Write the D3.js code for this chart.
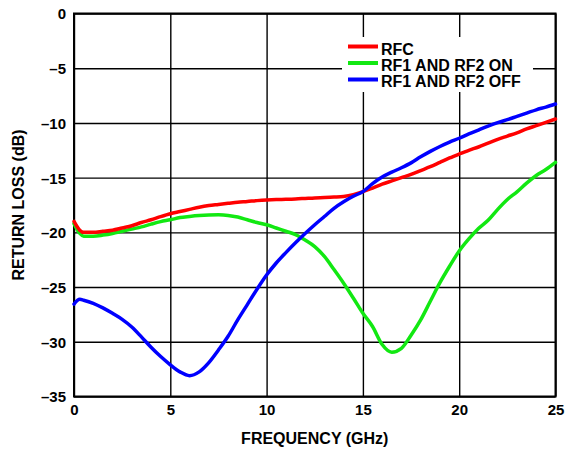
<!DOCTYPE html>
<html>
<head>
<meta charset="utf-8">
<script src="https://cdn.jsdelivr.net/npm/d3@7"></script>
<style>
  html, body { margin: 0; padding: 0; background: #fff; }
  svg text { font-family: "Liberation Sans", Arial, Helvetica, sans-serif; font-weight: bold; fill: #000; }
</style>
</head>
<body>
<svg id="chart" width="566" height="450"></svg>
<script>
// Frequency sweep points (GHz)
const freqGHz = [0, 0.3, 0.5, 1, 1.5, 2, 2.5, 3, 3.5, 4, 4.5, 5, 5.5, 6, 6.5, 7, 7.5, 8, 8.5, 9, 9.5,
  10, 10.5, 11, 11.5, 12, 12.5, 13, 13.5, 14, 14.5, 15, 15.5, 16, 16.5, 17, 17.5, 18, 18.5, 19, 19.5,
  20, 20.5, 21, 21.5, 22, 22.5, 23, 23.5, 24, 24.5, 25];

// Return loss (dB) for each port state
const rfcLoss = [-19.0, -19.8, -20.0, -20.0, -19.9, -19.8, -19.6, -19.4, -19.1, -18.85, -18.56, -18.3, -18.1,
  -17.9, -17.7, -17.55, -17.45, -17.35, -17.25, -17.18, -17.1, -17.04, -17.0, -16.98, -16.95, -16.9, -16.85,
  -16.82, -16.78, -16.72, -16.55, -16.28, -15.95, -15.6, -15.3, -15.0, -14.7, -14.35, -14.0, -13.6, -13.2,
  -12.84, -12.5, -12.2, -11.85, -11.5, -11.2, -10.9, -10.55, -10.25, -9.95, -9.64];

const onLoss = [-19.2, -20.1, -20.35, -20.35, -20.25, -20.1, -19.9, -19.7, -19.5, -19.25, -19.02, -18.85, -18.65,
  -18.55, -18.47, -18.42, -18.4, -18.45, -18.6, -18.85, -19.1, -19.3, -19.6, -19.9, -20.2, -20.7, -21.3,
  -22.2, -23.4, -24.65, -26.0, -27.4, -28.6, -30.25, -30.95, -30.6, -29.4, -28.0, -26.3, -24.6, -23.1,
  -21.7, -20.6, -19.65, -18.9, -17.9, -17.0, -16.3, -15.5, -14.8, -14.25, -13.6];

const offLoss = [-26.55, -26.12, -26.2, -26.48, -26.9, -27.4, -27.95, -28.65, -29.55, -30.5, -31.35, -32.1, -32.75,
  -33.1, -32.75, -31.9, -30.75, -29.5, -28.0, -26.6, -25.2, -23.9, -22.8, -21.85, -20.95, -20.1, -19.3,
  -18.55, -17.8, -17.2, -16.7, -16.28, -15.55, -14.95, -14.5, -14.1, -13.65, -13.1, -12.6, -12.15, -11.75,
  -11.4, -11.0, -10.65, -10.3, -9.98, -9.7, -9.4, -9.1, -8.8, -8.55, -8.27];

const seriesNames = ["RFC", "RF1 AND RF2 ON", "RF1 AND RF2 OFF"];
const seriesColors = ["#ff0000", "#12e812", "#0000ff"];

const xTicks = [0, 5, 10, 15, 20, 25];
const yTicks = [0, -5, -10, -15, -20, -25, -30, -35];
const yTickLabels = ["0", "–5", "–10", "–15", "–20", "–25", "–30", "–35"];

const xTitle = "FREQUENCY (GHz)";
const yTitle = "RETURN LOSS (dB)";

// Layout
const plot = { left: 74, top: 13.5, right: 555.5, bottom: 396.5 };
const svg = d3.select("#chart");

const x = d3.scaleLinear().domain([0, 25]).range([plot.left, plot.right]);
const y = d3.scaleLinear().domain([-35, 0]).range([plot.bottom, plot.top]);

// Grid
const grid = svg.append("g");
grid.append("g")
  .attr("transform", `translate(0,${plot.bottom})`)
  .call(d3.axisBottom(x).tickValues(xTicks).tickSize(-(plot.bottom - plot.top)).tickFormat(""))
  .call(g => g.select(".domain").remove())
  .call(g => g.selectAll("line").attr("stroke", "#000").attr("stroke-width", 1.4));
grid.append("g")
  .attr("transform", `translate(${plot.left},0)`)
  .call(d3.axisLeft(y).tickValues(yTicks).tickSize(-(plot.right - plot.left)).tickFormat(""))
  .call(g => g.select(".domain").remove())
  .call(g => g.selectAll("line").attr("stroke", "#000").attr("stroke-width", 1.4));

// Legend backdrop hides the grid behind it
svg.append("rect")
  .attr("x", 342).attr("y", 37).attr("width", 191).attr("height", 55)
  .attr("fill", "#fff");

// Frame
svg.append("rect")
  .attr("x", plot.left).attr("y", plot.top)
  .attr("width", plot.right - plot.left).attr("height", plot.bottom - plot.top)
  .attr("fill", "none").attr("stroke", "#000").attr("stroke-width", 2);

// Tick labels
svg.append("g")
  .attr("transform", `translate(0,${plot.bottom + 8})`)
  .call(d3.axisBottom(x).tickValues(xTicks).tickSize(0).tickPadding(0).tickFormat(d3.format("d")))
  .call(g => g.select(".domain").remove())
  .call(g => g.selectAll("text").attr("font-size", 15).attr("dy", "0.71em")
    .style("font-family", "'Liberation Sans', Arial, sans-serif").style("font-weight", "bold").attr("fill", "#000"));

svg.append("g")
  .attr("transform", `translate(${plot.left - 8},0)`)
  .call(d3.axisLeft(y).tickValues(yTicks).tickSize(0).tickPadding(0)
    .tickFormat((d, i) => yTickLabels[i]))
  .call(g => g.select(".domain").remove())
  .call(g => g.selectAll("text").attr("font-size", 15).attr("dy", "0.36em")
    .style("font-family", "'Liberation Sans', Arial, sans-serif").style("font-weight", "bold").attr("fill", "#000"));

// Axis titles
svg.append("text")
  .attr("x", (plot.left + plot.right) / 2).attr("y", 444)
  .attr("text-anchor", "middle").attr("font-size", 16)
  .text(xTitle);
svg.append("text")
  .attr("transform", `translate(23.5,${(plot.top + plot.bottom) / 2}) rotate(-90)`)
  .attr("text-anchor", "middle").attr("font-size", 16)
  .text(yTitle);

// Curves
const line = d3.line()
  .x(d => x(d[0]))
  .y(d => y(d[1]))
  .curve(d3.curveMonotoneX);

const seriesValues = [rfcLoss, onLoss, offLoss];
const drawOrder = [1, 0, 2];
const curves = svg.append("g");
drawOrder.forEach(i => {
  curves.append("path")
    .datum(freqGHz.map((f, k) => [f, seriesValues[i][k]]))
    .attr("d", line)
    .attr("fill", "none")
    .attr("stroke", seriesColors[i])
    .attr("stroke-width", 3.5)
    .attr("stroke-linejoin", "round")
    .attr("stroke-linecap", "round");
});

// Legend
const legend = svg.append("g");
const legendLineY = [46.5, 63, 79.5];
const legendTextY = [55, 71, 87];
seriesNames.forEach((name, i) => {
  legend.append("line")
    .attr("x1", 348).attr("x2", 378)
    .attr("y1", legendLineY[i]).attr("y2", legendLineY[i])
    .attr("stroke", seriesColors[i]).attr("stroke-width", 4);
  legend.append("text")
    .attr("x", 381).attr("y", legendTextY[i])
    .attr("font-size", 16)
    .text(name);
});
</script>
</body>
</html>
